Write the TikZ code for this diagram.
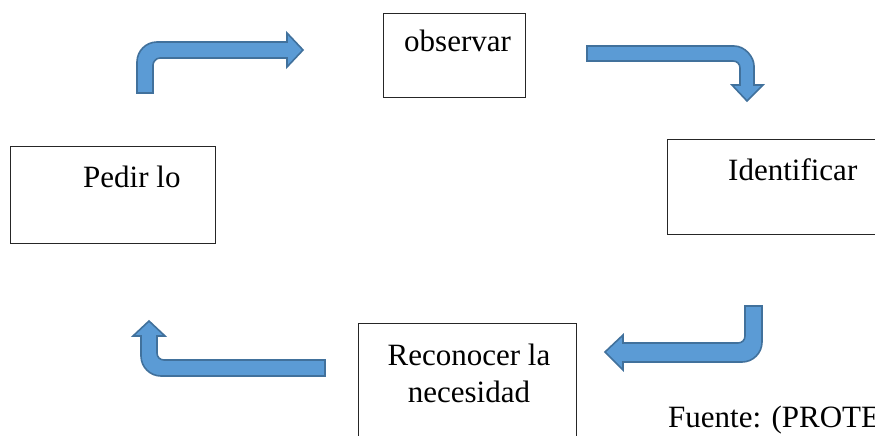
\documentclass[tikz,border=0pt]{standalone}
\usepackage{fontspec}
\setmainfont{Liberation Serif}
\usepackage{tikz}
\usetikzlibrary{positioning}

\definecolor{arrowfill}{HTML}{5B9BD5}
\definecolor{arrowline}{HTML}{41719C}

\tikzset{
  stagebox/.style={draw=black!85, line width=1pt, inner sep=0pt, anchor=north west},
  lbl/.style={inner sep=0pt, font=\fontsize{31}{37}\selectfont},
  bentarrow/.style={fill=arrowfill, draw=arrowline, line width=1.6pt, line join=miter}
}

\begin{document}
\begin{tikzpicture}[x=1pt, y=-1pt]
    \path[use as bounding box, fill=white] (0,0) rectangle (875,436);

    % Boxes
    \node[stagebox, minimum width=142pt, minimum height=84pt] (obsbox) at (383,13) {};
    \node[stagebox, minimum width=205pt, minimum height=97pt] (pedbox) at (10,146) {};
    \node[stagebox, minimum width=225pt, minimum height=95pt] (idebox) at (667,139) {};
    \node[stagebox, minimum width=218pt, minimum height=140pt] (recbox) at (358,323) {};

    % Labels
    \node[lbl, anchor=base west] (obs) at (404,52) {observar};
    \node[lbl, anchor=base west] (ped) at (83,187) {Pedir lo};
    \node[lbl, anchor=base west] (ide) at (728,180) {Identificar};
    \node[lbl, anchor=base] (rec) at (469,365) {Reconocer la};
    \node[lbl, anchor=base] (nec) at (469,402) {necesidad};
    \node[lbl, anchor=base west] (src) at (668,427) {Fuente: (PROTE};

    % Bent arrows
    \draw[bentarrow] (137,93) -- (137,62) .. controls (137,51) and (146,42) .. (157,42) -- (287,42)
        -- (287,33) -- (303,50) -- (287,67) -- (287,58) -- (160,58)
        .. controls (156,58) and (153,62) .. (153,65) -- (153,93) -- cycle;
    \draw[bentarrow] (587,46) -- (734,46) .. controls (745,46) and (754,57) .. (754,66) -- (754,85)
        -- (763,85) -- (747,101) -- (732,85) -- (740,85) -- (740,68)
        .. controls (740,64) and (737,61) .. (733,61) -- (587,61) -- cycle;
    \draw[bentarrow] (745,306) -- (762,306) -- (762,342) .. controls (762,353) and (753,362) .. (742,362)
        -- (623,362) -- (623,370) -- (605,352) -- (623,335) -- (623,343) -- (738,343)
        .. controls (742,343) and (745,340) .. (745,336) -- cycle;
    \draw[bentarrow] (325,360) -- (325,376) -- (161,376) .. controls (150,376) and (141,367) .. (141,356)
        -- (141,336) -- (133,336) -- (149,321) -- (165,336) -- (157,336) -- (157,353)
        .. controls (157,357) and (160,360) .. (164,360) -- cycle;
\end{tikzpicture}
\end{document}
